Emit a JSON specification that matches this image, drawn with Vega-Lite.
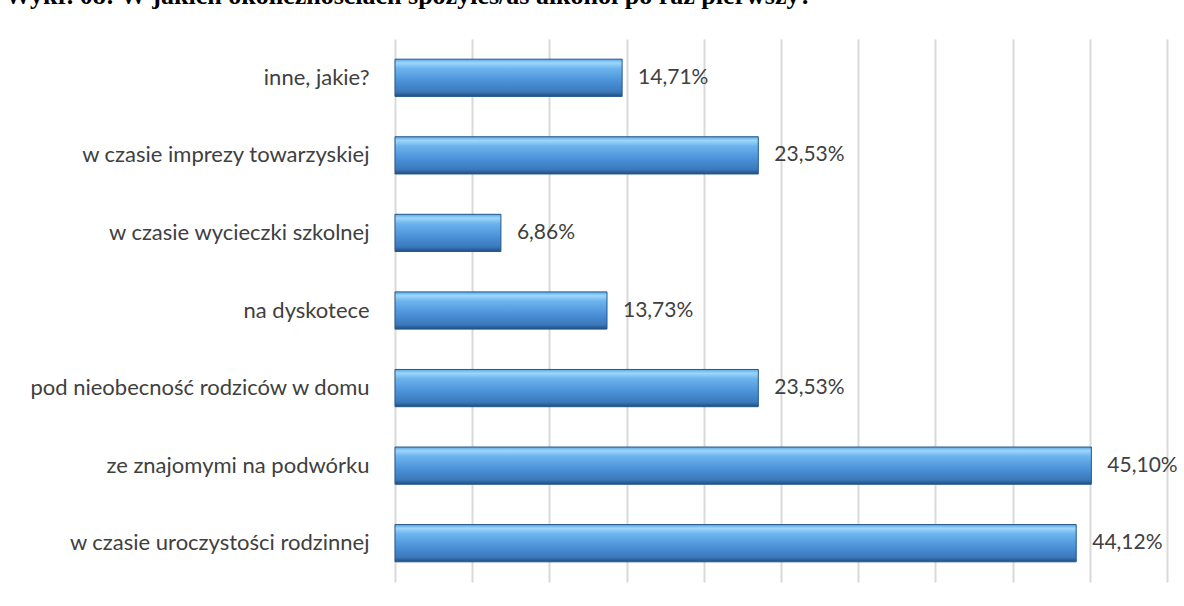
{
  "$schema": "https://vega.github.io/schema/vega-lite/v6.json",
  "autosize": {"type": "none"},
  "width": 772,
  "height": 543,
  "padding": {"left": 395, "top": 39, "right": 17, "bottom": 24},
  "background": "white",
  "config": {
    "view": {"stroke": null},
    "locale": {"number": {"decimal": ",", "thousands": " ", "grouping": [3], "currency": ["", " zł"]}}
  },
  "title": {
    "text": "Wykr. 08: W jakich okolicznościach spożyłeś/aś alkohol po raz pierwszy?",
    "anchor": "start",
    "frame": "group",
    "dx": -390,
    "offset": 30,
    "font": "Liberation Serif",
    "fontSize": 26,
    "fontWeight": "bold",
    "color": "#000000"
  },
  "data": {
    "values": [
      {"kategoria": "inne, jakie?", "procent": 0.1471},
      {"kategoria": "w czasie imprezy towarzyskiej", "procent": 0.2353},
      {"kategoria": "w czasie wycieczki szkolnej", "procent": 0.0686},
      {"kategoria": "na dyskotece", "procent": 0.1373},
      {"kategoria": "pod nieobecność rodziców w domu", "procent": 0.2353},
      {"kategoria": "ze znajomymi na podwórku", "procent": 0.4510},
      {"kategoria": "w czasie uroczystości rodzinnej", "procent": 0.4412}
    ]
  },
  "encoding": {
    "y": {
      "field": "kategoria",
      "type": "nominal",
      "sort": null,
      "scale": {"paddingInner": 0.52, "paddingOuter": 0.26},
      "axis": {
        "title": null,
        "domain": false,
        "ticks": false,
        "labelPadding": 26,
        "labelFont": "Lato",
        "labelFontSize": 22,
        "labelColor": "#404040",
        "labelLimit": 400
      }
    },
    "x": {
      "field": "procent",
      "type": "quantitative",
      "scale": {"domain": [0, 0.5], "nice": false},
      "axis": {
        "title": null,
        "values": [0, 0.05, 0.1, 0.15, 0.2, 0.25, 0.3, 0.35, 0.4, 0.45, 0.5],
        "labels": false,
        "ticks": false,
        "domain": false,
        "grid": true,
        "gridColor": "#d9d9d9",
        "gridWidth": 2
      }
    }
  },
  "layer": [
    {
      "mark": {
        "type": "bar",
        "stroke": "#24588c",
        "strokeWidth": 1,
        "color": {
          "gradient": "linear",
          "x1": 0, "y1": 0, "x2": 0, "y2": 1,
          "stops": [
            {"offset": 0, "color": "#5aa8e4"},
            {"offset": 0.1, "color": "#9ed6fb"},
            {"offset": 0.25, "color": "#6cb4ee"},
            {"offset": 0.6, "color": "#4a91d8"},
            {"offset": 0.88, "color": "#3b78bb"},
            {"offset": 1, "color": "#1f4e7f"}
          ]
        }
      }
    },
    {
      "mark": {
        "type": "text",
        "align": "left",
        "baseline": "middle",
        "dx": 16,
        "font": "Lato",
        "fontSize": 21,
        "color": "#404040"
      },
      "encoding": {
        "text": {"field": "procent", "type": "quantitative", "format": ".2%"}
      }
    }
  ]
}
